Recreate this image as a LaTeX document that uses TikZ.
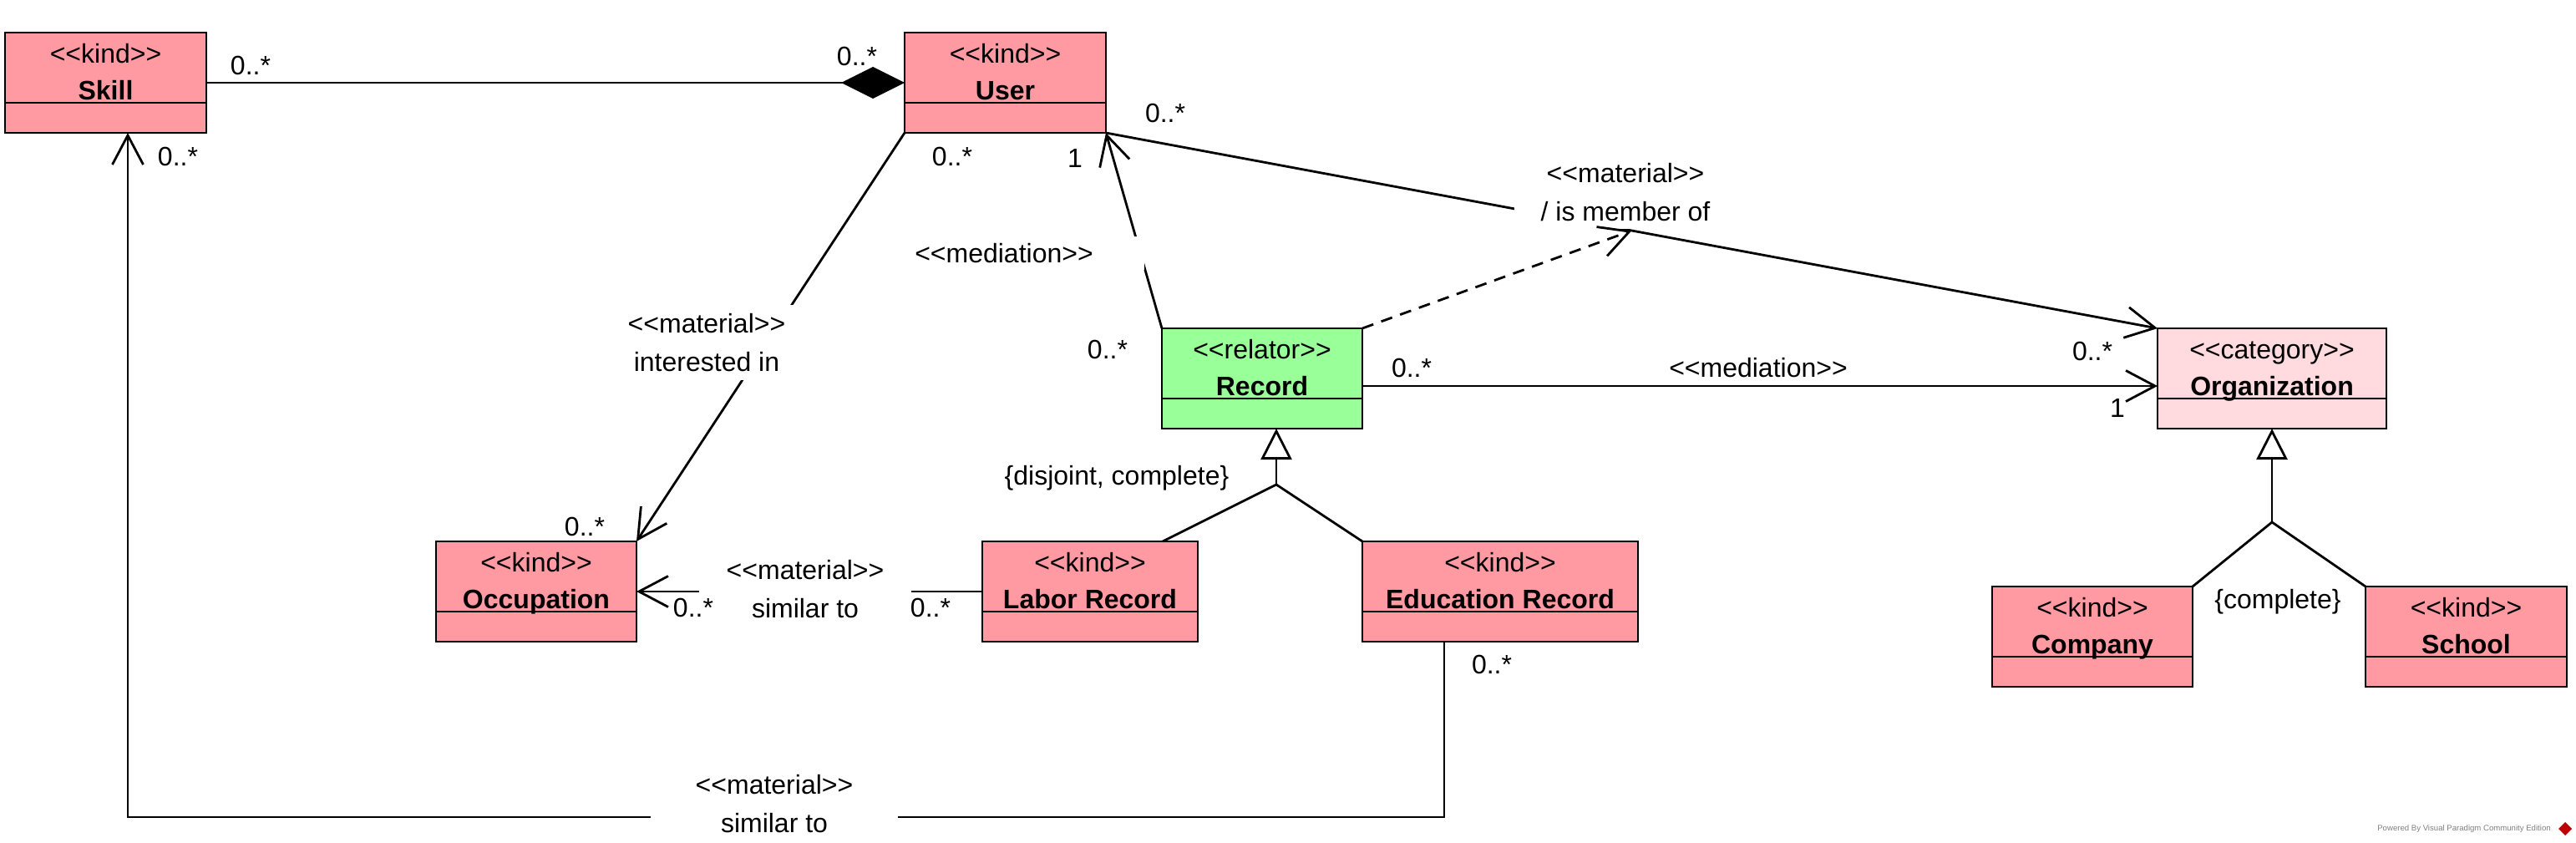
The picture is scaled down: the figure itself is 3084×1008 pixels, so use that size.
\documentclass[tikz,border=0pt]{standalone}
\usepackage{fontspec}
\setmainfont[Ligatures=TeXOff]{Liberation Sans}
\usetikzlibrary{arrows.meta,calc}
\definecolor{kindfill}{HTML}{FF9AA3}
\definecolor{relfill}{HTML}{99FF99}
\definecolor{catfill}{HTML}{FFDADE}
\tikzset{
  box/.style={draw, line width=0.7pt, inner sep=0pt, outer sep=0pt, anchor=north west},
  conn/.style={line width=0.7pt},
  openarrow/.style={-{Straight Barb[length=8.75pt,width=9.25pt]}},
  gentip/.style={-{Triangle[open,length=9.25pt,width=9.25pt]}},
  mult/.style={font=\fontsize{8}{10}\selectfont, inner sep=0pt},
  lbl/.style={fill=white, inner sep=0pt, align=center, font=\fontsize{8}{11.5}\selectfont},
}
\newcommand{\umlclass}[8]{%
  \node[box, fill=#6, minimum width={(#4-#2)*0.25pt}, minimum height={(#5-#3)*0.25pt}] (#1) at (#2,#3) {};
  \draw[line width=0.7pt] (#2,#3+84) -- (#4,#3+84);
  \node[anchor=base, inner sep=0pt, font=\fontsize{8}{10}\selectfont] (#1-st) at ({(#2+#4)/2},#3+36) {#7};
  \node[anchor=base, inner sep=0pt, font=\fontsize{8}{10}\selectfont\bfseries] (#1-nm) at ({(#2+#4)/2},#3+80) {#8};
}
\begin{document}
\begin{tikzpicture}[x=0.25pt,y=-0.25pt]
\useasboundingbox[fill=white] (0,0) rectangle (3084,1008);

% classes
\umlclass{skill}{6}{39}{247}{159}{kindfill}{<<kind>>}{Skill}
\umlclass{user}{1083}{39}{1324}{159}{kindfill}{<<kind>>}{User}
\umlclass{record}{1391}{393}{1631}{513}{relfill}{<<relator>>}{Record}
\umlclass{labor}{1176}{648}{1434}{768}{kindfill}{<<kind>>}{Labor Record}
\umlclass{education}{1631}{648}{1961}{768}{kindfill}{<<kind>>}{Education Record}
\umlclass{occupation}{522}{648}{762}{768}{kindfill}{<<kind>>}{Occupation}
\umlclass{organization}{2583}{393}{2857}{513}{catfill}{<<category>>}{Organization}
\umlclass{company}{2385}{702}{2625}{822}{kindfill}{<<kind>>}{Company}
\umlclass{school}{2832}{702}{3073}{822}{kindfill}{<<kind>>}{School}

% connectors
\draw[conn, -{Diamond[length=19pt,width=9.5pt]}] (skill.east) -- (user.west);
\draw[conn, openarrow] (user.south west) -- (occupation.north east);
\draw[conn, openarrow] (record.north west) -- (user.south east);
\draw[conn, openarrow] (user.south east) -- (organization.north west);
\coordinate (memb) at ($(user.south east)!0.5!(organization.north west)$);
\draw[conn, openarrow] ([yshift=-2.25pt]record.east) -- ([yshift=-2.25pt]organization.west);
\draw[conn, openarrow] (labor.west) -- (occupation.east);
\coordinate (eduOut) at ($(education.south west)+(98,0)$);
\coordinate (skillIn) at ($(skill.south west)+(147,0)$);
\draw[conn, openarrow] (eduOut) -- ++(0,210) -| (skillIn);

% generalizations
\coordinate (recTip) at ($(record.south west)+(137,0)$);
\coordinate (genJ) at ($(recTip)+(0,67)$);
\coordinate (laborTop) at ($(labor.north west)+(216,0)$);
\draw[conn] (laborTop) -- (genJ);
\draw[conn] (education.north west) -- (genJ);
\draw[conn, gentip] (genJ) -- (recTip);
\coordinate (orgJ) at ($(organization.south)+(0,112)$);
\draw[conn] (company.north east) -- (orgJ);
\draw[conn] (school.north west) -- (orgJ);
\draw[conn, gentip] (orgJ) -- (organization.south);

% association labels (with white background)
\node[lbl, minimum width=84pt, minimum height=10pt] (medUser) at (1202,303) {<<mediation>>};
\node[lbl, minimum width=66.5pt, minimum height=21.75pt] (memberLbl) at (1946,230) {<<material>>\\/ is member of};
\node[lbl, minimum width=53pt, minimum height=22.5pt] (interLbl) at (846,410) {<<material>>\\interested in};
\node[lbl, minimum width=63.5pt, minimum height=22.5pt] (simOcc) at (964,705) {<<material>>\\similar to};
\node[lbl, minimum width=74pt, minimum height=22.5pt] (simSkill) at (927,962) {<<material>>\\similar to};
\node[mult] (medOrg) at (2105,440) {<<mediation>>};

% derivation (dashed)
\draw[conn, dashed, dash pattern=on 3.5pt off 2.5pt, openarrow] (record.north east) -- (memb);

% multiplicities
\node[mult] (m1) at (300,78) {0..*};
\node[mult] (m2) at (1026,67) {0..*};
\node[mult] (m3) at (213,187) {0..*};
\node[mult] (m4) at (1140,187) {0..*};
\node[mult] (m5) at (700,630) {0..*};
\node[mult] (m6) at (1287,189) {1};
\node[mult] (m7) at (1326,418) {0..*};
\node[mult] (m8) at (1395,135) {0..*};
\node[mult] (m9) at (2505,420) {0..*};
\node[mult] (m10) at (1690,440) {0..*};
\node[mult] (m11) at (2535,488) {1};
\node[mult] (m12) at (830,727) {0..*};
\node[mult] (m13) at (1114,727) {0..*};
\node[mult] (m14) at (1786,795) {0..*};

% generalization constraints
\node[mult] (gs1) at (1337,572) {\{disjoint, complete\}};
\node[mult] (gs2) at (2727,720) {\{complete\}};

% watermark
\node[font=\fontsize{2.4}{3}\selectfont, text=gray, inner sep=0pt] (wm) at (2950,992) {Powered By Visual Paradigm Community Edition};
\fill[red!75!black] (3071,984) -- (3079,992) -- (3071,1000) -- (3063,992) -- cycle;
\end{tikzpicture}
\end{document}
